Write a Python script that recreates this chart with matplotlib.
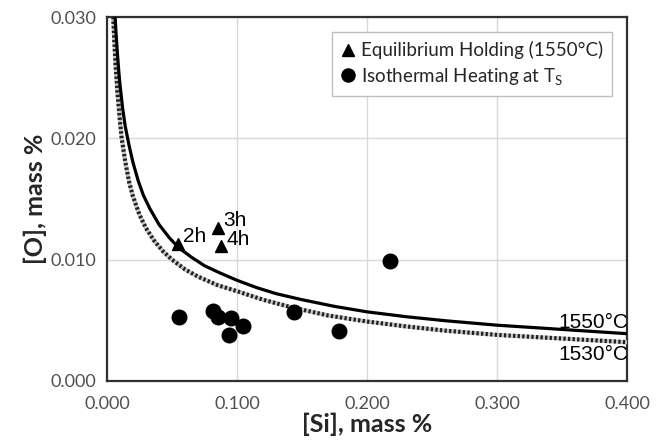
import matplotlib
matplotlib.use('Agg')
import matplotlib.pyplot as plt
import numpy as np

# equilibrium curves
si_1550 = [0.0062, 0.007, 0.008, 0.009, 0.010, 0.012, 0.014, 0.017, 0.020, 0.024, 0.028,
           0.033, 0.040, 0.048, 0.055, 0.065, 0.075, 0.087, 0.100, 0.115, 0.130, 0.150,
           0.175, 0.200, 0.230, 0.260, 0.300, 0.350, 0.400]
o_1550 = [0.0300, 0.0286, 0.0270, 0.0256, 0.0244, 0.0225, 0.0210, 0.0194, 0.0180, 0.0165, 0.0153,
          0.0142, 0.0129, 0.0118, 0.0110, 0.0102, 0.0095, 0.0089, 0.0083, 0.0077, 0.0072, 0.0067,
          0.00615, 0.0057, 0.0053, 0.00497, 0.0046, 0.00425, 0.0039]

si_1530 = [0.0048, 0.0055, 0.0065, 0.008, 0.010, 0.0113, 0.014, 0.017, 0.020, 0.025, 0.030,
           0.036, 0.043, 0.050, 0.060, 0.070, 0.085, 0.100, 0.120, 0.141, 0.170, 0.200,
           0.230, 0.260, 0.300, 0.350, 0.400]
o_1530 = [0.0300, 0.0283, 0.0262, 0.0238, 0.0214, 0.0200, 0.0181, 0.0164, 0.0152, 0.0137, 0.0126,
          0.0116, 0.0107, 0.0100, 0.0092, 0.0086, 0.0079, 0.0074, 0.0067, 0.0061, 0.0054, 0.0049,
          0.0045, 0.00415, 0.0038, 0.0035, 0.0032]

# equilibrium holding (1550 C)
hold_si = [0.0546, 0.0854, 0.0877]
hold_o = [0.0113, 0.0126, 0.0111]
hold_lbl = ['2h', '3h', '4h']

# isothermal heating at Ts
iso_si = [0.0556, 0.0818, 0.0856, 0.0954, 0.1048, 0.0941, 0.1438, 0.1787, 0.2177]
iso_o = [0.00528, 0.00574, 0.00528, 0.00519, 0.00450, 0.00381, 0.00569, 0.00408, 0.00986]

plt.rcParams['font.family'] = ['Lato', 'DejaVu Sans']
plt.rcParams['mathtext.fontset'] = 'custom'
plt.rcParams['mathtext.rm'] = 'Lato'
plt.rcParams['mathtext.it'] = 'Lato'

fig = plt.figure(figsize=(6.63, 4.44), dpi=100, facecolor='w')
ax = fig.add_axes([0.1614, 0.1419, 0.7843, 0.8198])

ax.plot(si_1530, o_1530, c='#c8c8c8', lw=3.0, zorder=3)
ax.plot(si_1530, o_1530, c='#202020', lw=3.0, ls=(0, (0.55, 0.55)), zorder=3)
ax.plot(si_1550, o_1550, c='k', lw=2.3, zorder=4)

ax.plot(hold_si, hold_o, ls='', marker='^', ms=9, mfc='k', mec='k', zorder=5,
        label='Equilibrium Holding (1550°C)')
ax.plot(iso_si, iso_o, ls='', marker='o', ms=10.5, mfc='k', mec='k', zorder=5,
        label='Isothermal Heating at T$_\\mathrm{S}$')

for x, y, t in zip(hold_si, hold_o, hold_lbl):
    ax.text(x + 0.004, y + 0.0006, t, fontsize=15, family='Liberation Sans', va='center', ha='left')

ax.text(0.401, 0.0040, '1550°C', fontsize=15, family='Liberation Sans', ha='right', va='bottom')
ax.text(0.401, 0.0030, '1530°C', fontsize=15, family='Liberation Sans', ha='right', va='top')

ax.set_xlim(0, 0.4)
ax.set_ylim(0, 0.03)
ax.set_xticks(np.arange(0, 0.41, 0.1))
ax.set_yticks(np.arange(0, 0.031, 0.01))
ax.set_xticklabels(['%.3f' % v for v in np.arange(0, 0.41, 0.1)])
ax.set_yticklabels(['%.3f' % v for v in np.arange(0, 0.031, 0.01)])
ax.tick_params(length=0, labelsize=13, labelcolor='#505050')
ax.tick_params(axis='x', pad=11)
ax.tick_params(axis='y', pad=8)
ax.grid(True, color='#d9d9d9', lw=1.0, zorder=0)
ax.set_axisbelow(True)
for s in ax.spines.values():
    s.set_color('#303030')
    s.set_linewidth(1.6)

ax.set_xlabel('[Si], mass %', fontsize=18, fontweight='bold', color='#262626', labelpad=0)
ax.set_ylabel('[O], mass %', fontsize=18, fontweight='bold', color='#262626', labelpad=2)

leg = ax.legend(loc='upper right', bbox_to_anchor=(0.99, 0.985), fontsize=13.5, numpoints=1,
                markerscale=0.9, handlelength=0.7, handletextpad=0.35, borderpad=0.5,
                labelspacing=0.35, fancybox=False, framealpha=1, edgecolor='#bfbfbf')
leg.get_frame().set_linewidth(1.0)
for t in leg.get_texts():
    t.set_color('#262626')

fig.savefig('out.png', dpi=100, facecolor='w')
